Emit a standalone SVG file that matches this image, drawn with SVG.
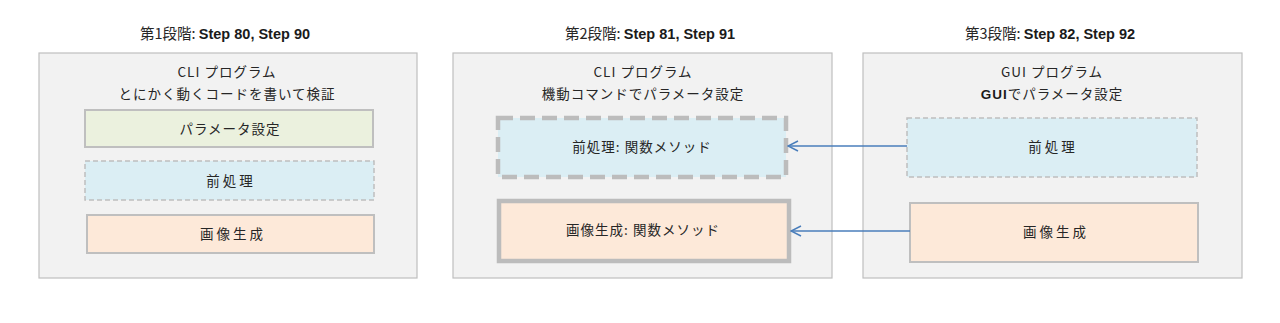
<svg xmlns="http://www.w3.org/2000/svg" width="1280" height="323" viewBox="0 0 1280 323">
<defs>
<style>
.panel{fill:#f2f2f2;stroke:#bfbfbf;stroke-width:1.2}
.t{font-family:"Noto Sans CJK JP","Noto Sans",sans-serif;font-size:13.5px;fill:#262626;text-anchor:middle}
.ttl{font-family:"Noto Sans CJK JP","Noto Sans",sans-serif;font-size:14.5px;fill:#262626;text-anchor:middle}
.b{font-family:"Liberation Sans","Noto Sans",sans-serif;font-weight:bold;fill:#1a1a1a}
.ls{letter-spacing:1px}
.ls2{letter-spacing:3px}
.green{fill:#ebf1de;stroke:#bfbfbf;stroke-width:2}
.blue{fill:#dbeef4;stroke:#bfbfbf;stroke-width:1.5;stroke-dasharray:5 3}
.blueThick{fill:#dbeef4;stroke:#bcbcbc;stroke-width:4.5;stroke-dasharray:15 7}
.orange{fill:#fde9d9;stroke:#bfbfbf;stroke-width:2}
.orangeThick{fill:#fde9d9;stroke:#bcbcbc;stroke-width:4.5}
.conn{stroke:#4a7ebb;stroke-width:1.3;fill:none}
</style>
<marker id="arr" viewBox="0 0 12 12" refX="11" refY="6" markerWidth="12" markerHeight="12" markerUnits="userSpaceOnUse" orient="auto">
<path d="M1,1 L11,6 L1,11" fill="none" stroke="#4a7ebb" stroke-width="1.5"/>
</marker>
</defs>

<g id="stage1">
<text class="ttl" x="225" y="39">第1段階: <tspan class="b">Step 80, Step 90</tspan></text>
<rect class="panel" x="39" y="53" width="378" height="225"/>
<text class="t ls" x="227" y="77">CLI プログラム</text>
<text class="t ls" x="227" y="99">とにかく動くコードを書いて検証</text>
</g>
<g id="s1-param">
<rect class="green" x="85" y="110" width="288" height="37"/>
<text class="t ls" x="230" y="134">パラメータ設定</text>
</g>
<g id="s1-pre">
<rect class="blue" x="85" y="161" width="289" height="39"/>
<text class="t ls2" x="231" y="186">前処理</text>
</g>
<g id="s1-gen">
<rect class="orange" x="87" y="215" width="287" height="38"/>
<text class="t ls2" x="233" y="239">画像生成</text>
</g>

<g id="stage2">
<text class="ttl" x="650" y="39">第2段階: <tspan class="b">Step 81, Step 91</tspan></text>
<rect class="panel" x="453" y="53" width="379" height="225"/>
<text class="t ls" x="643" y="77">CLI プログラム</text>
<text class="t ls" x="643" y="99">機動コマンドでパラメータ設定</text>
</g>
<g id="s2-pre">
<rect class="blueThick" x="498" y="118" width="288" height="59"/>
<text class="t ls" x="642" y="152">前処理: 関数メソッド</text>
</g>
<g id="s2-gen">
<rect class="orangeThick" x="499" y="201" width="290" height="60"/>
<text class="t ls" x="643" y="235">画像生成: 関数メソッド</text>
</g>

<g id="stage3">
<text class="ttl" x="1050" y="39">第3段階: <tspan class="b">Step 82, Step 92</tspan></text>
<rect class="panel" x="863" y="53" width="379" height="225"/>
<text class="t ls" x="1052" y="77">GUI プログラム</text>
<text class="t ls" x="1052" y="99"><tspan class="b">GUI</tspan>でパラメータ設定</text>
</g>
<g id="s3-pre">
<rect class="blue" x="907" y="118" width="290" height="59"/>
<text class="t ls2" x="1053" y="152">前処理</text>
</g>
<g id="s3-gen">
<rect class="orange" x="910" y="203" width="288" height="59"/>
<text class="t ls2" x="1056" y="237">画像生成</text>
</g>

<g id="connectors">
<line class="conn" x1="907" y1="146" x2="788" y2="146" marker-end="url(#arr)"/>
<line class="conn" x1="910" y1="231" x2="791" y2="231" marker-end="url(#arr)"/>
</g>
</svg>
